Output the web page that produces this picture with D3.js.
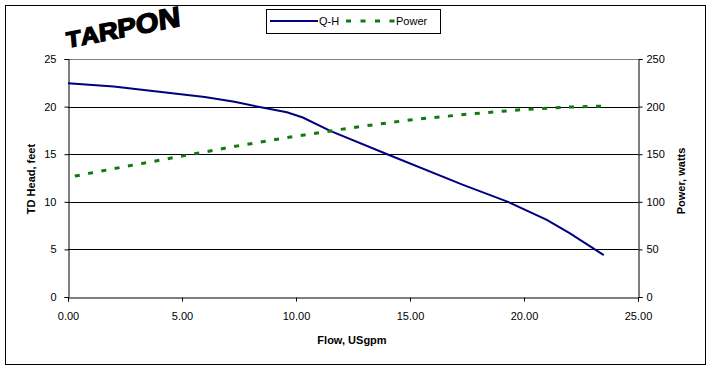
<!DOCTYPE html>
<html lang="en">
<head>
  <meta charset="UTF-8">
  <title>TARPON pump curve</title>
  <script src="https://d3js.org/d3.v7.min.js"></script>
  <style>
    body { margin: 0; background: #fff; }
    svg text { font-family: "Liberation Sans", Arial, sans-serif; fill: #000; }
    .tick-label { font-size: 11px; }
    .axis-title { font-size: 11px; font-weight: bold; }
  </style>
</head>
<body>
  <div id="chart"></div>
  <script>
    // pump data
    const qhFlow = [0, 2, 4, 6, 7.3, 8.4, 9.6, 10.3, 11.5, 14, 17.3, 19.3, 21, 22, 23.5];
    const qhHead = [22.45, 22.1, 21.55, 21.0, 20.5, 19.95, 19.4, 18.85, 17.45, 15.0, 11.8, 10.0, 8.1, 6.7, 4.4];

    const powerFlow = [0.3, 2.5, 5, 7.5, 10, 12.5, 15, 17.5, 20, 22, 23.5];
    const powerWatts = [127, 137, 148, 159, 169, 178, 186, 192, 197, 199.5, 200.5];

    const xTicks = [0, 5, 10, 15, 20, 25];
    const headTicks = [0, 5, 10, 15, 20, 25];
    const powerTicks = [0, 50, 100, 150, 200, 250];

    const titleLetters = ["T", "A", "R", "P", "O", "N"];

    const W = 712, H = 371;
    const plot = { left: 68, right: 638, top: 59, bottom: 297 };

    const svg = d3.select("#chart").append("svg")
      .attr("width", W)
      .attr("height", H);

    // outer frame
    svg.append("rect")
      .attr("x", 5.5).attr("y", 5.5)
      .attr("width", 700).attr("height", 359)
      .attr("fill", "#fff")
      .attr("stroke", "#000");

    const x = d3.scaleLinear().domain([0, 25]).range([plot.left, plot.right]);
    const yHead = d3.scaleLinear().domain([0, 25]).range([plot.bottom, plot.top]);
    const yPower = d3.scaleLinear().domain([0, 250]).range([plot.bottom, plot.top]);

    // gridlines
    svg.append("g").selectAll("line")
      .data(headTicks.filter(d => d > 0))
      .enter().append("line")
      .attr("x1", plot.left).attr("x2", plot.right)
      .attr("y1", d => Math.round(yHead(d)) + 0.5)
      .attr("y2", d => Math.round(yHead(d)) + 0.5)
      .attr("stroke", d => d === 25 ? "#808080" : "#000");

    // axes
    const leftAxis = svg.append("g")
      .attr("transform", `translate(${plot.left + 0.5},0)`)
      .call(d3.axisLeft(yHead).tickValues(headTicks).tickSize(4).tickPadding(8));
    const rightAxis = svg.append("g")
      .attr("transform", `translate(${plot.right + 0.5},0)`)
      .call(d3.axisRight(yPower).tickValues(powerTicks).tickSize(4).tickPadding(4));
    const bottomAxis = svg.append("g")
      .attr("transform", `translate(0,${plot.bottom + 0.5})`)
      .call(d3.axisBottom(x).tickValues(xTicks).tickFormat(d3.format(".2f")).tickSize(4).tickPadding(11));

    [leftAxis, rightAxis, bottomAxis].forEach(g => {
      g.attr("font-family", null).attr("font-size", null);
      g.select(".domain").attr("stroke", "#000");
      g.selectAll(".tick line").attr("stroke", "#000");
      g.selectAll(".tick text").attr("class", "tick-label").attr("fill", "#000");
    });

    // curves
    const qhLine = d3.line()
      .x((d, i) => x(qhFlow[i]))
      .y(d => yHead(d));
    svg.append("path")
      .datum(qhHead)
      .attr("fill", "none")
      .attr("stroke", "#000080")
      .attr("stroke-width", 2)
      .attr("d", qhLine);

    const powerLine = d3.line()
      .x((d, i) => x(powerFlow[i]))
      .y(d => yPower(d));
    svg.append("path")
      .datum(powerWatts)
      .attr("fill", "none")
      .attr("stroke", "#107a10")
      .attr("stroke-width", 3)
      .attr("stroke-dasharray", "5,8.5")
      .attr("d", powerLine);

    // axis titles
    svg.append("text")
      .attr("class", "axis-title")
      .attr("x", 352).attr("y", 344)
      .attr("text-anchor", "middle")
      .text("Flow, USgpm");
    svg.append("text")
      .attr("class", "axis-title")
      .attr("transform", "translate(35,179) rotate(-90)")
      .attr("text-anchor", "middle")
      .text("TD Head, feet");
    svg.append("text")
      .attr("class", "axis-title")
      .attr("transform", "translate(685,181) rotate(-90)")
      .attr("text-anchor", "middle")
      .text("Power, watts");

    // legend
    const legend = svg.append("g");
    legend.append("rect")
      .attr("x", 266.5).attr("y", 9.5)
      .attr("width", 174).attr("height", 24)
      .attr("fill", "#fff").attr("stroke", "#000");
    legend.append("line")
      .attr("x1", 270).attr("x2", 318).attr("y1", 21).attr("y2", 21)
      .attr("stroke", "#000080").attr("stroke-width", 2);
    legend.append("text")
      .attr("class", "tick-label")
      .attr("x", 319).attr("y", 25)
      .text("Q-H");
    legend.append("line")
      .attr("x1", 346).attr("x2", 395).attr("y1", 21).attr("y2", 21)
      .attr("stroke", "#107a10").attr("stroke-width", 3)
      .attr("stroke-dasharray", "5,9.5");
    legend.append("text")
      .attr("class", "tick-label")
      .attr("x", 396).attr("y", 25)
      .text("Power");

    // word-art style title, letters growing to the right
    const title = svg.append("text")
      .attr("transform", "translate(67,48) rotate(-11) skewX(-6)")
      .attr("font-family", "DejaVu Sans")
      .attr("font-weight", "bold")
      .attr("stroke", "#000")
      .attr("stroke-width", 1.4)
      .attr("textLength", 116)
      .attr("lengthAdjust", "spacingAndGlyphs");
    title.selectAll("tspan")
      .data(titleLetters)
      .enter().append("tspan")
      .attr("font-size", (d, i) => 22 + i * 1.2)
      .text(d => d);
  </script>
</body>
</html>
